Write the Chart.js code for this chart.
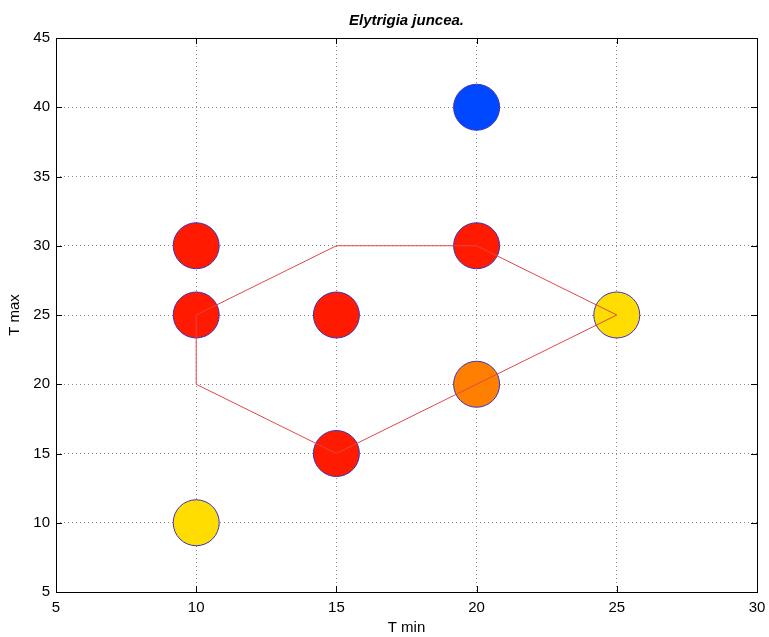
<!DOCTYPE html>
<html>
<head>
<meta charset="utf-8">
<script src="https://cdn.jsdelivr.net/npm/chart.js@4.4.1/dist/chart.umd.min.js"></script>
<style>
html,body{margin:0;padding:0;background:#fff;}
#wrap{width:769px;height:637px;}
</style>
</head>
<body>
<div id="wrap"><canvas id="c" width="769" height="637"></canvas></div>
<script>
// Data
const tMin = [10, 10, 15, 20, 20, 20, 15, 10, 25];
const tMax = [30, 25, 25, 40, 30, 20, 15, 10, 25];
const pointColors = ['#ff1a00', '#ff1a00', '#ff1a00', '#0048ff', '#ff1a00', '#ff8000', '#ff1a00', '#ffdd00', '#ffdd00'];
const hullMin = [10, 15, 20, 25, 20, 15, 10, 10];
const hullMax = [25, 30, 30, 25, 20, 15, 20, 25];
const xTicks = [5, 10, 15, 20, 25, 30];
const yTicks = [5, 10, 15, 20, 25, 30, 35, 40, 45];
const titleText = 'Elytrigia juncea.';
const xLabel = 'T min';
const yLabel = 'T max';

const FONT = 'Liberation Sans, Arial, sans-serif';

const boxPlugin = {
  id: 'boxPlugin',
  afterDraw(chart) {
    const ctx = chart.ctx, a = chart.chartArea;
    const xs = chart.scales.x, ys = chart.scales.y;
    ctx.save();
    ctx.strokeStyle = '#000';
    ctx.lineWidth = 1;
    ctx.beginPath();
    xTicks.forEach(v => {
      const px = Math.round(xs.getPixelForValue(v)) + 0.5;
      ctx.moveTo(px, a.bottom); ctx.lineTo(px, a.bottom - 6);
      ctx.moveTo(px, a.top); ctx.lineTo(px, a.top + 6);
    });
    yTicks.forEach(v => {
      const py = Math.round(ys.getPixelForValue(v)) + 0.5;
      ctx.moveTo(a.left, py); ctx.lineTo(a.left + 6, py);
      ctx.moveTo(a.right, py); ctx.lineTo(a.right - 6, py);
    });
    ctx.stroke();
    ctx.strokeRect(Math.round(a.left) + 0.5, Math.round(a.top) + 0.5,
                   Math.round(a.right - a.left), Math.round(a.bottom - a.top));
    ctx.restore();
  }
};

new Chart(document.getElementById('c'), {
  data: {
    datasets: [
      {
        type: 'line',
        label: 'hull',
        data: hullMin.map((x, i) => ({ x: x, y: hullMax[i] })),
        borderColor: '#e04848',
        borderWidth: 1,
        pointRadius: 0,
        fill: false,
        tension: 0,
        order: 0
      },
      {
        type: 'scatter',
        label: 'points',
        data: tMin.map((x, i) => ({ x: x, y: tMax[i] })),
        pointRadius: 23,
        pointHoverRadius: 23,
        pointBackgroundColor: pointColors,
        pointBorderColor: '#4030b8',
        pointBorderWidth: 1,
        order: 1
      }
    ]
  },
  options: {
    responsive: false,
    animation: false,
    events: [],
    layout: { autoPadding: false, padding: { left: 0, right: 0, top: 0, bottom: 0 } },
    plugins: {
      legend: { display: false },
      tooltip: { enabled: false },
      title: {
        display: true,
        fullSize: false,
        text: titleText,
        color: '#000',
        font: { family: FONT, size: 15, weight: 'bold', style: 'italic', lineHeight: 1.2 },
        padding: { top: 12, bottom: 8 }
      }
    },
    scales: {
      x: {
        type: 'linear',
        min: 5, max: 30,
        afterBuildTicks(s) { s.ticks = xTicks.map(v => ({ value: v })); },
        afterFit(s) { s.height = 45; s.paddingRight = 12; s.paddingLeft = 0; },
        grid: { color: '#8a8a8a', lineWidth: 1, drawTicks: false, tickLength: 0 },
        border: { display: false, dash: [1, 3] },
        ticks: { color: '#000', font: { family: FONT, size: 15 }, padding: 7, maxRotation: 0 },
        title: { display: true, text: xLabel, color: '#000', font: { family: FONT, size: 15, lineHeight: 1.2 }, padding: { top: 0, bottom: 0 } }
      },
      y: {
        type: 'linear',
        min: 5, max: 45,
        afterBuildTicks(s) { s.ticks = yTicks.map(v => ({ value: v })); },
        afterFit(s) { s.width = 56; },
        grid: { color: '#8a8a8a', lineWidth: 1, drawTicks: false, tickLength: 0 },
        border: { display: false, dash: [1, 3] },
        ticks: { color: '#000', font: { family: FONT, size: 15 }, padding: 6 },
        title: { display: true, text: yLabel, color: '#000', font: { family: FONT, size: 15, lineHeight: 1.2 }, padding: { top: 6, bottom: 0 } }
      }
    }
  },
  plugins: [boxPlugin]
});
</script>
</body>
</html>
